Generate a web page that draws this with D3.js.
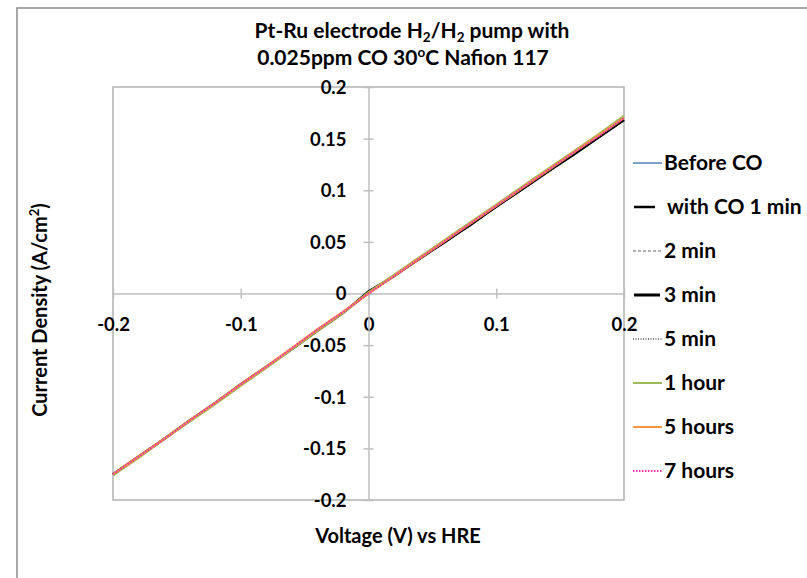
<!DOCTYPE html>
<html><head><meta charset="utf-8">
<script src="https://cdn.jsdelivr.net/npm/d3@7"></script>
<style>body{margin:0;background:#fff;}svg{display:block;font-family:Lato,"Open Sans",sans-serif;}</style>
</head><body>
<script>
const voltage = [-0.2,-0.18,-0.16,-0.14,-0.12,-0.10,-0.08,-0.06,-0.04,-0.02,0,0.02,0.04,0.06,0.08,0.10,0.12,0.14,0.16,0.18,0.2];
const beforeCO = [-0.175,-0.158,-0.141,-0.124,-0.106,-0.089,-0.071,-0.054,-0.035,-0.019,0.001,0.016,0.034,0.050,0.067,0.084,0.101,0.118,0.134,0.151,0.168];
const co1min  = [-0.175,-0.158,-0.141,-0.123,-0.106,-0.089,-0.071,-0.054,-0.036,-0.019,0.000,0.017,0.033,0.050,0.066,0.084,0.100,0.117,0.134,0.151,0.168];
const co2min  = [-0.175,-0.158,-0.140,-0.123,-0.106,-0.088,-0.071,-0.053,-0.036,-0.018,0.000,0.017,0.034,0.050,0.067,0.084,0.101,0.118,0.135,0.151,0.168];
const co3min  = [-0.175,-0.158,-0.141,-0.123,-0.106,-0.088,-0.071,-0.054,-0.036,-0.019,0.002,0.017,0.034,0.050,0.067,0.084,0.101,0.118,0.134,0.151,0.168];
const co5min  = [-0.175,-0.158,-0.141,-0.123,-0.106,-0.088,-0.071,-0.053,-0.036,-0.018,0.000,0.017,0.034,0.051,0.067,0.084,0.101,0.118,0.135,0.152,0.169];
const h1      = [-0.176,-0.159,-0.141,-0.124,-0.107,-0.089,-0.072,-0.054,-0.036,-0.019,0.001,0.018,0.035,0.052,0.069,0.086,0.103,0.120,0.137,0.154,0.172];
const h5      = [-0.175,-0.158,-0.141,-0.123,-0.106,-0.088,-0.071,-0.053,-0.035,-0.018,0.000,0.017,0.034,0.051,0.068,0.085,0.102,0.119,0.136,0.153,0.170];
const h7      = [-0.175,-0.158,-0.141,-0.123,-0.106,-0.088,-0.071,-0.053,-0.035,-0.018,0.000,0.017,0.034,0.051,0.068,0.085,0.102,0.119,0.136,0.152,0.170];
const seriesNames = ["Before CO","with CO 1 min","2 min","3 min","5 min","1 hour","5 hours","7 hours"];
const xTicks = [-0.2,-0.1,0,0.1,0.2];
const yTicks = [-0.2,-0.15,-0.1,-0.05,0,0.05,0.1,0.15,0.2];

const series = [
  {name:seriesNames[0], values:beforeCO, color:"#4F81BD", width:1.5, dash:null},
  {name:seriesNames[1], values:co1min, color:"#000000", width:1.5, dash:null},
  {name:seriesNames[2], values:co2min, color:"#666666", width:1.2, dash:"3,2"},
  {name:seriesNames[3], values:co3min, color:"#000000", width:2.5, dash:null},
  {name:seriesNames[4], values:co5min, color:"#000000", width:1.2, dash:"1,1.5"},
  {name:seriesNames[5], values:h1, color:"#9BBB59", width:2.5, dash:null},
  {name:seriesNames[6], values:h5, color:"#F79646", width:2.5, dash:null},
  {name:seriesNames[7], values:h7, color:"#F030B0", width:2, dash:"1.5,1.5"}
];

const W=807,H=578;
const FONT="Lato";
const svg=d3.select("body").append("svg").attr("width",W).attr("height",H);
svg.append("rect").attr("x",17).attr("y",8).attr("width",W).attr("height",H).attr("fill","#fff").attr("stroke","#8c8c8c").attr("stroke-width",1.5);

const L=113,R=624,T=87,B=500;
const x=d3.scaleLinear().domain([-0.2,0.2]).range([L,R]);
const y=d3.scaleLinear().domain([-0.2,0.2]).range([B,T]);

svg.append("rect").attr("x",L).attr("y",T).attr("width",R-L).attr("height",B-T).attr("fill","none").attr("stroke","#b3b3b3").attr("stroke-width",1.5);

const fmt=d=>String(+d.toFixed(2));
const xAxis=d3.axisBottom(x).tickValues(xTicks).tickSize(0).tickFormat(fmt);
const gx=svg.append("g").attr("transform",`translate(0,${y(0)})`).call(xAxis);
gx.select(".domain").attr("stroke","#bfbfbf").attr("stroke-width",1.5);
gx.selectAll(".tick").append("line").attr("y1",-5).attr("y2",5).attr("stroke","#bfbfbf").attr("stroke-width",1.5);
gx.selectAll(".tick text").attr("dy","0.35em").attr("y",31).attr("font-size",18.5).attr("font-weight","bold").attr("fill","#000").attr("font-family",FONT);

const yAxis=d3.axisLeft(y).tickValues(yTicks).tickSize(0).tickFormat(fmt);
const gy=svg.append("g").attr("transform",`translate(${x(0)},0)`).call(yAxis);
gy.select(".domain").attr("stroke","#bfbfbf").attr("stroke-width",1.5);
gy.selectAll(".tick").append("line").attr("x1",-5).attr("x2",5).attr("stroke","#bfbfbf").attr("stroke-width",1.5);
gy.selectAll(".tick text").attr("x",-22).attr("dy","0.35em").attr("font-size",18.5).attr("font-weight","bold").attr("fill","#000").attr("font-family",FONT);

const line=d3.line().x((d,i)=>x(voltage[i])).y(d=>y(d));
series.forEach(s=>{
  svg.append("path").datum(s.values).attr("d",line).attr("fill","none")
    .attr("stroke",s.color).attr("stroke-width",s.width).attr("stroke-dasharray",s.dash);
});

const title=svg.append("text").attr("text-anchor","middle").attr("font-size",21).attr("font-weight","bold").attr("font-family",FONT);
const t1=title.append("tspan").attr("x",412).attr("y",38);
t1.append("tspan").text("Pt-Ru electrode H");
t1.append("tspan").attr("font-size",13.5).attr("dy",4).text("2");
t1.append("tspan").attr("dy",-4).text("/H");
t1.append("tspan").attr("font-size",13.5).attr("dy",4).text("2");
t1.append("tspan").attr("dy",-4).text(" pump with");
const t2=title.append("tspan").attr("x",403).attr("y",65);
t2.append("tspan").text("0.025ppm CO 30");
t2.append("tspan").attr("font-size",13.5).attr("dy",-8).text("o");
t2.append("tspan").attr("dy",8).text("C Nafion 117");

svg.append("text").attr("x",398).attr("y",543).attr("text-anchor","middle").attr("font-size",20).attr("font-weight","bold").attr("font-family",FONT).text("Voltage (V) vs HRE");
const yt=svg.append("text").attr("transform","translate(47,310) rotate(-90)").attr("text-anchor","middle").attr("font-size",20).attr("font-weight","bold").attr("font-family",FONT);
yt.append("tspan").text("Current Density  (A/cm");
yt.append("tspan").attr("font-size",13).attr("dy",-8).text("2");
yt.append("tspan").attr("dy",8).text(")");

const legY=d3.scaleLinear().domain([0,7]).range([163,471]);
series.forEach((s,i)=>{
  const g=svg.append("g").attr("transform",`translate(0,${legY(i)})`);
  const short = i===1 || i===3;
  g.append("line").attr("x1",short?634:633).attr("x2",short?(i===1?655:660):662).attr("y1",0).attr("y2",0)
    .attr("stroke",s.color).attr("stroke-width",i===1?2.5:(i===3?3:Math.min(s.width,2))).attr("stroke-dasharray",s.dash);
  g.append("text").attr("x",i===1?667:664).attr("dy","0.35em").attr("font-size",21).attr("font-weight","bold").attr("font-family",FONT).text(s.name);
});
</script>
</body></html>
